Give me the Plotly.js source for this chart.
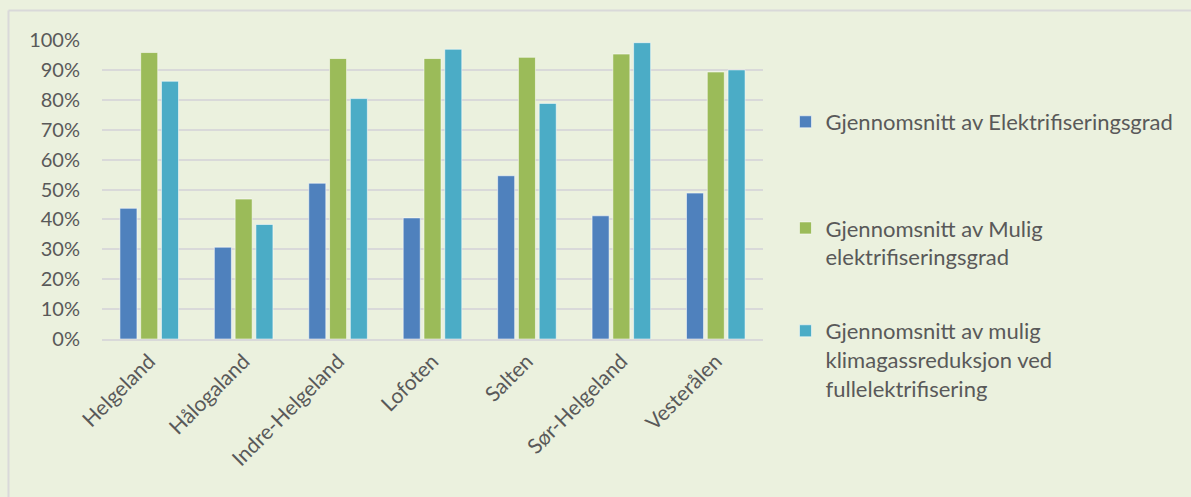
<!DOCTYPE html>
<html>
<head>
<meta charset="utf-8">
<script src="https://cdn.plot.ly/plotly-3.0.1.min.js"></script>
<style>
  html, body { margin: 0; padding: 0; background: #EBF1DE; }
  #chart { width: 1191px; height: 497px; }
</style>
</head>
<body>
<div id="chart"></div>
<script>
const categories = ["Helgeland", "Hålogaland", "Indre-Helgeland", "Lofoten", "Salten", "Sør-Helgeland", "Vesterålen"];
const elektrifiseringsgrad = [0.437, 0.307, 0.521, 0.405, 0.546, 0.412, 0.488];
const muligElektrifiseringsgrad = [0.958, 0.468, 0.938, 0.938, 0.942, 0.953, 0.893];
const muligKlimagassreduksjon = [0.862, 0.383, 0.804, 0.969, 0.788, 0.991, 0.900];
const seriesNames = [
  "Gjennomsnitt av Elektrifiseringsgrad",
  "Gjennomsnitt av Mulig<br>elektrifiseringsgrad",
  "Gjennomsnitt av mulig<br>klimagassreduksjon ved<br>fullelektrifisering"
];
const seriesColors = ["#4F81BD", "#9BBB59", "#4BACC6"];
const yTickVals = [0, 0.1, 0.2, 0.3, 0.4, 0.5, 0.6, 0.7, 0.8, 0.9, 1.0];
const yTickText = ["0%", "10%", "20%", "30%", "40%", "50%", "60%", "70%", "80%", "90%", "100%"];

const seriesValues = [elektrifiseringsgrad, muligElektrifiseringsgrad, muligKlimagassreduksjon];
const legendIds = ["legend", "legend2", "legend3"];
const traces = seriesValues.map((vals, i) => ({
  type: "bar",
  name: seriesNames[i],
  x: categories,
  y: vals,
  legend: legendIds[i],
  marker: { color: seriesColors[i], line: { color: "rgba(255,255,255,0.55)", width: 1 } },
  hoverinfo: "x+y"
}));

const fontFamily = "Lato, 'Open Sans', sans-serif";
const legendFont = { family: fontFamily, size: 22, color: "#595959" };
function legendAt(y) {
  return {
    x: 1.034, xanchor: "left", y: y, yanchor: "top",
    bgcolor: "rgba(0,0,0,0)", valign: "top",
    font: legendFont, itemclick: false, itemdoubleclick: false
  };
}
const layout = {
  width: 1191,
  height: 497,
  paper_bgcolor: "#EBF1DE",
  plot_bgcolor: "#EBF1DE",
  margin: { l: 102, r: 428, t: 40, b: 158 },
  barmode: "group",
  bargap: 0.34,
  bargroupgap: 0.18,
  font: { family: fontFamily, size: 20, color: "#595959" },
  xaxis: {
    tickangle: -45,
    showgrid: false,
    showline: true,
    linecolor: "#D9D9D9",
    linewidth: 1.5,
    ticks: "",
    tickfont: { family: fontFamily, size: 21, color: "#595959" },
    fixedrange: true
  },
  yaxis: {
    range: [0, 1.0],
    tickvals: yTickVals,
    ticktext: yTickText,
    showgrid: true,
    gridcolor: "#D9D9D9",
    gridwidth: 1.5,
    zeroline: false,
    ticks: "",
    ticklabelstandoff: 21,
    tickfont: { family: fontFamily, size: 20, color: "#595959" },
    fixedrange: true
  },
  showlegend: true,
  legend: legendAt(0.796),
  legend2: legendAt(0.441),
  legend3: legendAt(0.097),
  shapes: [
    { type: "line", xref: "paper", yref: "paper", x0: -0.1415, x1: 2, y0: 1.0987, y1: 1.0987, line: { color: "#D9D9D9", width: 2 } },
    { type: "line", xref: "paper", yref: "paper", x0: -0.1415, x1: -0.1415, y0: 1.0987, y1: -1, line: { color: "#D9D9D9", width: 2 } }
  ]
};

Plotly.newPlot("chart", traces, layout, { displayModeBar: false });
</script>
</body>
</html>
